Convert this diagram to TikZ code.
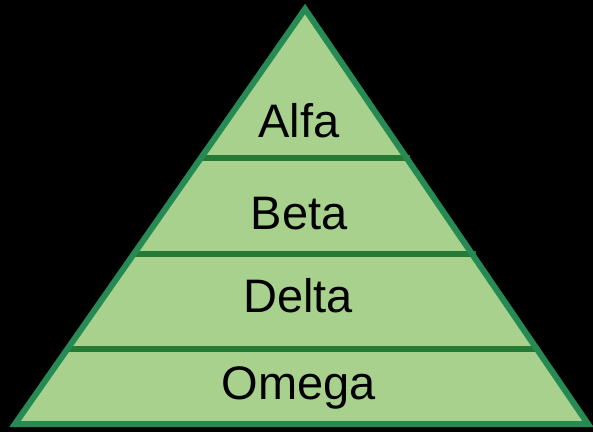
\documentclass[tikz,border=0pt]{standalone}
\usepackage{fontspec}
\setmainfont{Liberation Sans}
\definecolor{pfill}{HTML}{A9D18E}
\definecolor{pedge}{HTML}{268A55}
\definecolor{pline}{HTML}{257A34}
\begin{document}
\begin{tikzpicture}[x=1pt,y=-1pt,
  label/.style={font=\fontsize{47}{47}\selectfont, text=black, inner sep=0pt, anchor=center},
  divider/.style={draw=pline, line width=6pt}]
\fill[black] (0,0) rectangle (593,432);
\useasboundingbox (0,0) rectangle (593,432);
\coordinate (apex) at (305,9);
\coordinate (bl) at (15,424);
\coordinate (br) at (588,424);
\fill[pfill] (apex) -- (bl) -- (br) -- cycle;
% dividers
\coordinate (l1a) at (199,158); \coordinate (l1b) at (410,158);
\coordinate (l2a) at (134,254); \coordinate (l2b) at (476,254);
\coordinate (l3a) at (66,349);  \coordinate (l3b) at (539,349);
\draw[divider] (l1a) -- (l1b);
\draw[divider] (l2a) -- (l2b);
\draw[divider] (l3a) -- (l3b);
\draw[draw=pedge, line width=6pt, line join=miter] (apex) -- (bl) -- (br) -- cycle;
\node[label] (alfa) at (299,121) {Alfa};
\node[label] (beta) at (299,214) {Beta};
\node[label] (delta) at (298,296) {Delta};
\node[label] (omega) at (299,388) {Omega};
\end{tikzpicture}
\end{document}
